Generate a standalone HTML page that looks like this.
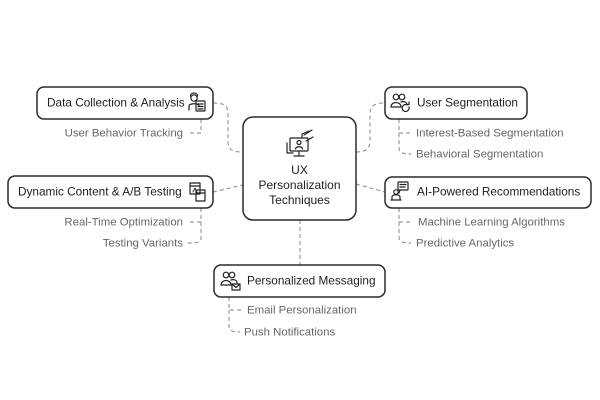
<!DOCTYPE html>
<html><head><meta charset="utf-8"><style>
html,body{margin:0;padding:0;background:#fff;width:600px;height:400px;overflow:hidden}
svg{display:block}
.b{fill:#fff;stroke:#2b2b2b;stroke-width:1.5}
.t{font-family:"Liberation Sans",Arial,sans-serif;font-size:11.8px;fill:#1e1e1e}
.c{font-family:"Liberation Sans",Arial,sans-serif;font-size:12px;fill:#1e1e1e}
.s{font-family:"Liberation Sans",Arial,sans-serif;font-size:11.4px;fill:#666}
.d{fill:none;stroke:#999;stroke-width:1.2;stroke-dasharray:4 3}
.i{fill:none;stroke:#222;stroke-width:1.2;stroke-linejoin:round;stroke-linecap:round}
</style></head><body>
<svg width="600" height="400" viewBox="0 0 600 400" xmlns="http://www.w3.org/2000/svg">
<!-- connectors to center -->
<path class="d" d="M213,103 C226,103 228,106 228,116 L228,140 C228,150 232,152 243,152"/>
<path class="d" d="M213,192 L243,185"/>
<path class="d" d="M356,152 C367,152 370,148 370,140 L370,114 C370,106 374,103 385,103"/>
<path class="d" d="M356,184 L385,192"/>
<path class="d" d="M300,220 L300,265"/>
<!-- sub connectors left -->
<path class="d" d="M201,119 L201,133 L188,133"/>
<path class="d" d="M201,208 L201,222 L188,222 M201,222 L201,238 C201,242 199,243 188,243"/>
<!-- sub connectors right -->
<path class="d" d="M399,119 L399,133 L412,133 M399,133 L399,148 C399,153 403,154 411,154"/>
<path class="d" d="M399,208 L399,222 L412,222 M399,222 L399,237 C399,242 403,243 411,243"/>
<!-- sub connectors bottom -->
<path class="d" d="M229,297 L229,310 L242,310 M229,310 L229,326 C229,331 233,332 240,332"/>

<!-- center box -->
<rect class="b" x="243" y="117" width="113" height="103" rx="10"/>
<g class="i">
<path d="M287,143 L287,153 L293,153"/>
<rect x="290" y="138" width="18" height="13" rx="1"/>
<circle cx="299" cy="142.5" r="2"/>
<path d="M295.5,149 C296,146 302,146 302.5,149"/>
<path d="M299,151 L299,155 M294,156 L304,156"/>
<path d="M302,138 L302,134 L309,131 M306,141 L313,137 M304,135 L312,130"/>
</g>
<text class="c" x="299.5" y="171" text-anchor="middle" dominant-baseline="middle">UX</text>
<text class="c" x="299.5" y="186" text-anchor="middle" dominant-baseline="middle">Personalization</text>
<text class="c" x="299.5" y="201" text-anchor="middle" dominant-baseline="middle">Techniques</text>

<!-- Data Collection -->
<rect class="b" x="37" y="87" width="176" height="32" rx="7"/>
<text class="t" x="47" y="103.5" dominant-baseline="middle">Data Collection &amp; Analysis</text>
<g class="i">
<circle cx="194" cy="98" r="3.2"/>
<path d="M189,110 L189,106 C189,103 199,103 199,106"/>
<path d="M190.5,96 C190.5,92 197.5,92 197.5,96"/>
<rect x="196" y="101" width="9" height="10" rx="0.5"/>
<path d="M198,104 L203,104 M198,106.5 L203,106.5 M198,109 L203,109"/>
</g>
<text class="s" x="183" y="133.5" text-anchor="end" dominant-baseline="middle">User Behavior Tracking</text>

<!-- Dynamic Content -->
<rect class="b" x="8" y="176" width="205" height="32" rx="7"/>
<text class="t" x="18" y="192.5" dominant-baseline="middle">Dynamic Content &amp; A/B Testing</text>
<g class="i">
<rect x="190" y="183" width="10" height="11"/>
<path d="M190,186 L200,186"/>
<rect x="196" y="190" width="9" height="11"/>
<path d="M196,193 L205,193"/>
<path d="M193,192 L195,188 L197,192" stroke-width="0.9"/>
</g>
<text class="s" x="183" y="222.5" text-anchor="end" dominant-baseline="middle">Real-Time Optimization</text>
<text class="s" x="183" y="243.5" text-anchor="end" dominant-baseline="middle">Testing Variants</text>

<!-- User Segmentation -->
<rect class="b" x="385" y="87" width="142" height="32" rx="7"/>
<g class="i">
<circle cx="396" cy="97" r="2.8"/>
<circle cx="402" cy="97" r="2.8"/>
<path d="M391,107 C391,101 401,101 401,107 Z"/>
<path d="M401,102 C404,101 407,102 407,105"/>
<path d="M409,107 A3.5,3.5 0 1 1 406,104.5 M406,104.5 L409,104.5 L409,102"/>
</g>
<text class="t" x="417" y="103.5" dominant-baseline="middle">User Segmentation</text>
<text class="s" x="416" y="133.5" dominant-baseline="middle">Interest-Based Segmentation</text>
<text class="s" x="416" y="154.5" dominant-baseline="middle">Behavioral Segmentation</text>

<!-- AI-Powered -->
<rect class="b" x="385" y="177" width="206" height="31" rx="7"/>
<g class="i">
<rect x="398" y="182" width="10" height="8" rx="0.5"/>
<path d="M400,184.5 L406,184.5 M400,187 L405,187 M400,190 L399,193"/>
<circle cx="396" cy="192" r="2.2"/>
<path d="M392,200 L392,197 C392,194 400,194 400,197 L400,200 Z M391,200 L401,200"/>
</g>
<text class="t" x="417" y="192.5" dominant-baseline="middle">AI-Powered Recommendations</text>
<text class="s" x="418" y="222.5" dominant-baseline="middle">Machine Learning Algorithms</text>
<text class="s" x="416" y="243.5" dominant-baseline="middle">Predictive Analytics</text>

<!-- Personalized Messaging -->
<rect class="b" x="214" y="265" width="171" height="32" rx="7"/>
<g class="i">
<circle cx="226" cy="275" r="2.8"/>
<circle cx="232" cy="275" r="2.8"/>
<path d="M221,285 C221,279 231,279 231,285 Z"/>
<path d="M231,280 C234,279 237,280 237,283"/>
<rect x="232" y="284" width="8" height="6"/>
<path d="M232,284 L236,287.5 L240,284"/>
</g>
<text class="t" x="247" y="281.5" dominant-baseline="middle">Personalized Messaging</text>
<text class="s" x="247" y="310.5" dominant-baseline="middle">Email Personalization</text>
<text class="s" x="244" y="332.5" dominant-baseline="middle">Push Notifications</text>
</svg>
</body></html>
